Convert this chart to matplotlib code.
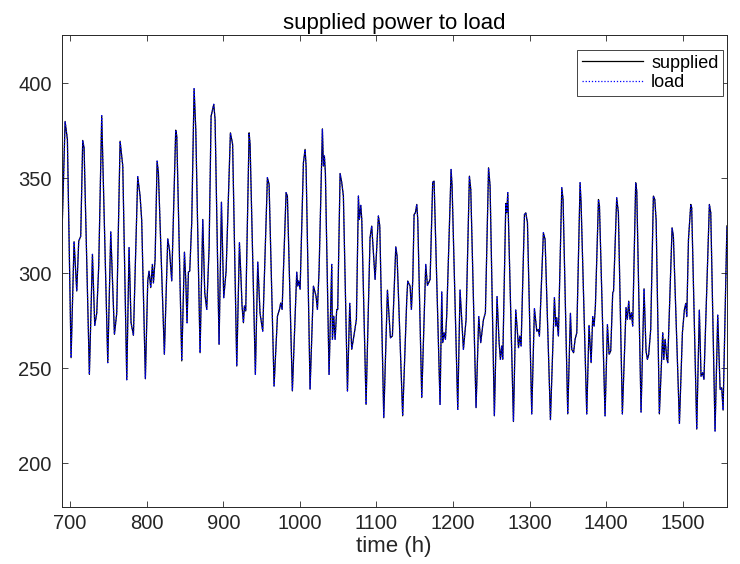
import matplotlib

matplotlib.use("Agg")
import matplotlib.pyplot as plt

# hours and power values (peaks, troughs, shoulders)
hours = [
    689.1, 693.5, 696.5, 701.3, 705.2, 708.7, 711.3, 713.9, 716.5, 718.3,
    725.2, 729.2, 732.2, 734.8, 737.4, 741.3, 749.2, 753.1, 757.9, 760.9,
    765.3, 768.8, 774.0, 777.0, 779.6, 782.7, 788.3, 791.4, 793.5, 798.3,
    801.4, 803.1, 805.3, 807.5, 808.8, 811.0, 813.6, 815.3, 823.1, 827.5,
    829.7, 832.7, 837.9, 839.3, 845.8, 849.3, 851.0, 852.7, 854.5, 856.2,
    858.8, 861.9, 864.1, 869.7, 873.2, 875.8, 878.4, 881.5, 884.1, 887.6,
    889.3, 894.5, 897.6, 900.6, 903.7, 909.3, 912.2, 917.6, 921.1, 923.2,
    924.5, 926.3, 927.6, 929.3, 933.7, 935.0, 941.9, 945.0, 948.0, 951.5,
    957.6, 959.8, 966.3, 970.7, 973.3, 975.0, 976.8, 982.0, 983.7, 990.2,
    995.9, 997.2, 998.5, 1000.3, 1004.6, 1006.8, 1008.1, 1013.3, 1017.7, 1021.1,
    1022.9, 1025.1, 1027.2, 1029.4, 1030.7, 1032.0, 1033.3, 1038.1, 1041.6, 1042.5,
    1044.2, 1046.0, 1048.1, 1049.4, 1052.5, 1054.7, 1056.8, 1062.1, 1065.1, 1067.7,
    1071.2, 1073.8, 1076.4, 1077.7, 1079.5, 1080.8, 1086.4, 1091.6, 1093.8, 1098.2,
    1102.5, 1104.3, 1109.5, 1114.3, 1118.2, 1120.8, 1125.2, 1126.9, 1134.2, 1139.5,
    1140.8, 1143.9, 1145.6, 1147.4, 1149.1, 1150.8, 1152.6, 1153.9, 1159.1, 1164.3,
    1166.5, 1170.0, 1173.4, 1175.2, 1183.0, 1185.2, 1186.5, 1188.2, 1190.0, 1191.7,
    1197.4, 1198.7, 1206.1, 1209.1, 1213.5, 1217.0, 1221.3, 1223.1, 1230.0, 1233.5,
    1236.1, 1239.6, 1242.2, 1246.3, 1248.3, 1253.9, 1257.4, 1260.1, 1261.8, 1263.5,
    1264.9, 1268.8, 1270.1, 1271.4, 1278.8, 1281.8, 1283.6, 1285.4, 1287.1, 1288.8,
    1293.2, 1294.9, 1297.1, 1302.7, 1306.2, 1309.3, 1311.4, 1312.7, 1317.9, 1320.1,
    1327.1, 1332.3, 1334.1, 1335.3, 1337.5, 1341.9, 1343.6, 1349.7, 1353.2, 1354.9,
    1357.3, 1359.3, 1361.5, 1365.8, 1367.1, 1374.5, 1377.5, 1380.2, 1382.3, 1384.1,
    1385.8, 1389.8, 1391.1, 1398.4, 1401.5, 1403.7, 1405.8, 1408.4, 1409.5, 1413.6,
    1415.8, 1421.0, 1425.8, 1427.5, 1429.3, 1431.0, 1432.8, 1434.5, 1438.4, 1439.8,
    1445.4, 1449.3, 1451.9, 1453.7, 1455.4, 1458.0, 1461.5, 1463.3, 1465.1, 1469.3,
    1473.7, 1475.0, 1476.8, 1478.9, 1480.2, 1485.9, 1487.6, 1495.5, 1499.4, 1502.0,
    1503.8, 1505.1, 1507.3, 1510.3, 1511.5, 1518.1, 1521.5, 1523.7, 1525.9, 1527.5,
    1534.6, 1536.4, 1542.0, 1545.5, 1548.6, 1550.7, 1552.5, 1557.5,
]
supplied = [
    316.0, 380.0, 370.5, 255.6, 316.7, 290.7, 317.0, 319.6, 370.0, 366.0,
    246.8, 310.0, 272.6, 279.0, 303.9, 383.0, 253.0, 321.8, 267.9, 279.0,
    369.6, 356.5, 244.0, 313.5, 274.0, 267.4, 350.9, 340.7, 328.0, 244.5,
    296.0, 301.2, 292.5, 304.7, 295.0, 307.4, 359.1, 353.0, 257.4, 318.2,
    312.6, 296.0, 375.4, 372.3, 253.9, 311.2, 296.8, 274.0, 300.7, 301.2,
    326.7, 397.2, 375.8, 258.2, 328.4, 289.8, 281.0, 313.5, 382.8, 389.0,
    381.0, 262.6, 337.5, 287.2, 301.2, 374.0, 368.0, 251.2, 316.1, 296.8,
    282.8, 274.0, 282.8, 280.2, 374.0, 367.9, 246.8, 306.0, 279.0, 269.6,
    350.4, 346.8, 240.7, 277.4, 281.0, 284.4, 281.0, 342.5, 340.7, 238.1,
    300.7, 293.3, 296.0, 291.6, 358.2, 365.3, 356.5, 239.0, 293.3, 288.0,
    281.0, 302.0, 339.0, 376.1, 356.5, 361.8, 353.0, 246.8, 304.7, 265.3,
    277.5, 265.3, 281.0, 281.0, 352.6, 347.7, 340.7, 238.1, 284.2, 260.0,
    268.8, 275.8, 340.7, 328.4, 335.8, 328.4, 231.0, 318.8, 324.9, 296.8,
    330.2, 324.9, 224.0, 291.2, 266.1, 267.0, 314.0, 309.1, 225.0, 286.0,
    296.0, 293.3, 281.0, 296.8, 331.0, 331.9, 336.3, 328.4, 234.6, 304.7,
    293.7, 296.8, 348.0, 348.6, 231.0, 290.2, 263.5, 268.8, 265.3, 277.9,
    354.7, 346.0, 228.4, 291.2, 260.0, 275.8, 351.2, 344.2, 229.3, 277.2,
    263.5, 275.6, 279.3, 355.6, 346.0, 225.0, 287.7, 263.5, 254.7, 261.8,
    254.7, 336.8, 331.9, 342.5, 222.0, 280.7, 271.4, 260.9, 267.0, 261.8,
    331.0, 331.9, 326.7, 226.0, 281.4, 269.6, 270.5, 267.0, 321.4, 317.9,
    223.0, 287.2, 272.3, 276.7, 267.0, 345.1, 338.9, 226.0, 279.0, 260.0,
    258.2, 265.3, 268.8, 347.7, 337.2, 226.0, 272.6, 253.0, 277.2, 272.3,
    282.8, 338.9, 335.4, 225.0, 273.0, 257.4, 259.2, 289.8, 290.7, 339.8,
    331.9, 226.0, 281.9, 275.8, 285.4, 275.8, 279.3, 272.3, 347.7, 343.3,
    227.0, 291.9, 259.2, 254.7, 257.4, 270.5, 340.7, 338.9, 328.0, 226.0,
    268.8, 254.7, 265.3, 255.6, 253.0, 324.0, 319.6, 221.0, 268.8, 281.0,
    284.2, 277.2, 317.9, 336.3, 334.6, 218.0, 280.7, 245.9, 247.7, 244.2,
    336.3, 331.9, 217.0, 278.0, 238.9, 239.8, 228.0, 325.0,
]
# load follows the supplied power almost exactly
load = list(supplied)

x_ticks = [700, 800, 900, 1000, 1100, 1200, 1300, 1400, 1500]
y_ticks = [200, 250, 300, 350, 400]

plt.rcParams["font.family"] = ["Liberation Sans", "DejaVu Sans"]
DARK = "#262626"

X0, X1 = 688.8, 1557.5
fig = plt.figure(figsize=(7.4, 5.64), dpi=100)
ax = fig.add_axes([61.5 / 740, 57 / 564, (X1 - X0) * 0.766 / 740, 472 / 564])

ax.plot(hours, supplied, color="black", lw=0.9, label="supplied")
ax.plot(hours, load, color="blue", lw=0.9, ls=(0, (1, 1.5)), label="load")

ax.set_xlim(X0, X1)
ax.set_ylim(177, 425.5)
ax.set_xticks(x_ticks)
ax.set_yticks(y_ticks)

ax.tick_params(direction="in", length=4, width=0.6, colors=DARK,
               labelsize=14.5, top=True, right=True)
ax.tick_params(axis="x", pad=5)
ax.tick_params(axis="y", pad=7)
for s in ax.spines.values():
    s.set_color(DARK)
    s.set_linewidth(0.7)

ax.set_xlabel("time (h)", fontsize=16, color=DARK, labelpad=2)
ax.set_title("supplied power to load", fontsize=16, color="black", pad=4)

leg = ax.legend(loc="upper right", bbox_to_anchor=(0.994, 0.968), fontsize=13,
                handlelength=3.4, handletextpad=0.45, borderpad=0.25,
                borderaxespad=0, labelspacing=0.15, fancybox=False, framealpha=1)
leg.get_frame().set_edgecolor(DARK)
leg.get_frame().set_linewidth(0.6)

fig.savefig("out.png", dpi=100)
